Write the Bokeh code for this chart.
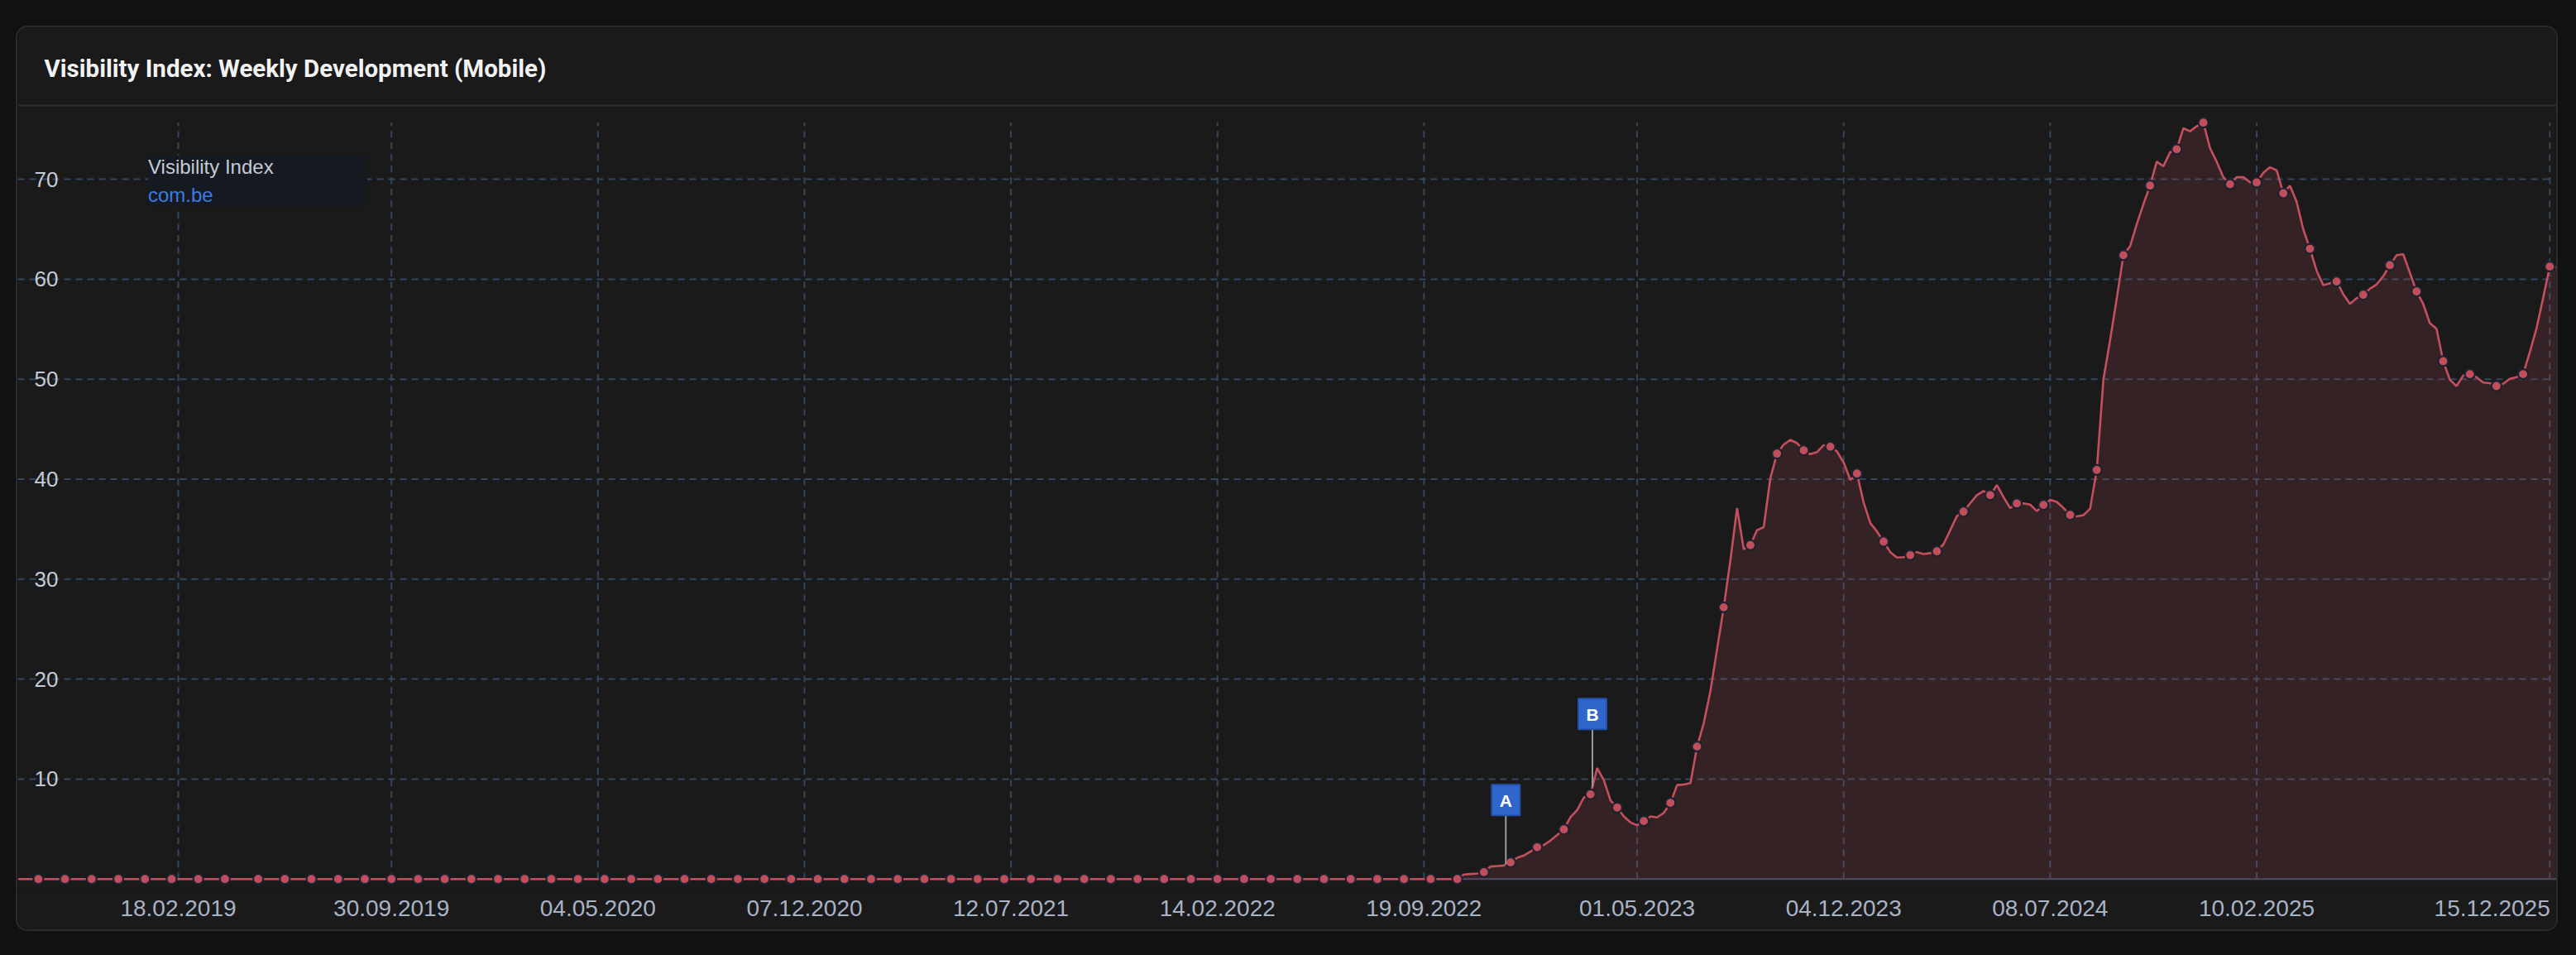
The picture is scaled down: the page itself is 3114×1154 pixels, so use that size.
import numpy as np
import pandas as pd
from bokeh.plotting import figure
from bokeh.models import (Range1d, FixedTicker, LinearAxis, Span, Legend, LegendItem,
                          GlobalInlineStyleSheet)
from bokeh.core.properties import value
from bokeh.embed import file_html
from bokeh.resources import INLINE

# ---------------- data ----------------
first_week = "2018-09-03"
last_week = "2025-12-22"
missing_weeks = ["2019-04-29"]          # one week without a data point

# weekly Visibility Index 03.09.2018 - 24.10.2022 (all zero)
vis_flat = [
    0, 0, 0, 0, 0, 0, 0, 0, 0, 0, 0, 0, 0, 0, 0, 0, 0, 0, 0, 0, 0, 0, 0, 0,
    0, 0, 0, 0, 0, 0, 0, 0, 0, 0, 0, 0, 0, 0, 0, 0, 0, 0, 0, 0, 0, 0, 0, 0,
    0, 0, 0, 0, 0, 0, 0, 0, 0, 0, 0, 0, 0, 0, 0, 0, 0, 0, 0, 0, 0, 0, 0, 0,
    0, 0, 0, 0, 0, 0, 0, 0, 0, 0, 0, 0, 0, 0, 0, 0, 0, 0, 0, 0, 0, 0, 0, 0,
    0, 0, 0, 0, 0, 0, 0, 0, 0, 0, 0, 0, 0, 0, 0, 0, 0, 0, 0, 0, 0, 0, 0, 0,
    0, 0, 0, 0, 0, 0, 0, 0, 0, 0, 0, 0, 0, 0, 0, 0, 0, 0, 0, 0, 0, 0, 0, 0,
    0, 0, 0, 0, 0, 0, 0, 0, 0, 0, 0, 0, 0, 0, 0, 0, 0, 0, 0, 0, 0, 0, 0, 0,
    0, 0, 0, 0, 0, 0, 0, 0, 0, 0, 0, 0, 0, 0, 0, 0, 0, 0, 0, 0, 0, 0, 0, 0,
    0, 0, 0, 0, 0, 0, 0, 0, 0, 0, 0, 0, 0, 0, 0, 0, 0, 0, 0, 0, 0, 0, 0, 0,
]
# weekly Visibility Index from 31.10.2022 to 22.12.2025
vis_growth = [
    0.45, 0.5, 0.55,
    0.69, 1.25, 1.3, 1.35,   1.66, 2.13, 2.35, 2.76,   3.18, 3.4, 3.86, 4.41,
    4.97, 6.19, 6.9, 8.15,   8.47, 11.1, 9.9, 7.87,    7.15, 6.27, 5.66, 5.38,
    5.8, 6.27, 6.16, 6.62,   7.62, 9.4, 9.45, 9.6,     13.25, 15.6, 18.8, 23.0,
    27.18, 31.9, 37.1, 33.0, 33.4, 34.9, 35.2, 40.1,   42.55, 43.46, 43.93, 43.6,
    42.88, 42.5, 42.7, 43.4, 43.24, 42.77, 41.67, 39.93, 40.56, 37.67, 35.6, 34.77,
    33.75, 32.7, 32.15, 32.2, 32.4, 32.7, 32.5, 32.6,  32.78, 33.5, 34.9, 36.3,
    36.75, 37.6, 38.4, 38.8, 38.4, 39.4, 38.2, 37.1,   37.57, 37.58, 37.45, 36.8,
    37.42, 37.92, 37.72, 37.12, 36.42, 36.28, 36.4, 37.05, 40.92, 50.0, 53.9, 58.1,
    62.4, 63.3, 65.5, 67.5,  69.37, 71.75, 71.3, 72.7, 73.0, 75.1, 74.8, 75.3,
    75.66, 73.1, 71.75, 70.2, 69.5, 70.2, 70.2, 69.7,  69.68, 70.64, 71.2, 70.9,
    68.6, 69.35, 67.75, 64.98, 63.05, 60.84, 59.4, 59.6, 59.77, 58.5, 57.53, 58.1,
    58.44, 59.05, 59.47, 60.3, 61.4, 62.4, 62.5, 60.65, 58.77, 57.53, 55.6, 55.05,
    51.8, 49.95, 49.3, 50.36, 50.5, 50.2, 49.67, 49.6, 49.31, 49.54, 50.03, 50.2,
    50.5, 52.7, 55.05, 58.1, 61.26, 61.2,
]

tick_dates = ["2019-02-18", "2019-09-30", "2020-05-04", "2020-12-07", "2021-07-12",
              "2022-02-14", "2022-09-19", "2023-05-01", "2023-12-04", "2024-07-08",
              "2025-02-10", "2025-12-15"]
tick_labels = ["18.02.2019", "30.09.2019", "04.05.2020", "07.12.2020", "12.07.2021",
               "14.02.2022", "19.09.2022", "01.05.2023", "04.12.2023", "08.07.2024",
               "10.02.2025", "15.12.2025"]
y_ticks = [10, 20, 30, 40, 50, 60, 70]

flag_dates = ["2022-12-14", "2023-03-15"]
flag_labels = ["A", "B"]
flag_box_values = [7.9, 16.5]

series_name = "com.be"
legend_title = "Visibility Index"
chart_title = "Visibility Index: Weekly Development (Mobile)"

# ---------------- build ----------------
weeks = pd.date_range(first_week, last_week, freq="7D")
weeks = weeks[~weeks.isin(pd.to_datetime(missing_weeks))]
vis = np.array(vis_flat + vis_growth, dtype=float)
assert len(weeks) == len(vis)

EPOCH = pd.Timestamp("1970-01-01")
def ms(t):
    return (pd.Timestamp(t) - EPOCH).total_seconds() * 1000.0

# layout constants (pixels)
PX_PER_DAY = 1.1504
PX_PER_UNIT = 12.08
anchor = pd.Timestamp("2019-02-18")
x_start = anchor - pd.Timedelta(days=194 / PX_PER_DAY)
x_end = anchor + pd.Timedelta(days=2879 / PX_PER_DAY)
y_top = float(vis.max())
y_start = -10.3 / PX_PER_UNIT
y_end = y_top + 27.7 / PX_PER_UNIT        # frame reaches up to the header separator
y_sep = y_top + 20.7 / PX_PER_UNIT

BG = "#1a1a1a"
GRID = "#34465f"
RED = "#c4505f"

p = figure(width=3073, height=1094, x_axis_type="datetime", y_axis_location=None,
           x_range=Range1d(x_start, x_end), y_range=Range1d(y_start, y_end),
           output_backend="svg", toolbar_location=None,
           background_fill_color=BG, border_fill_color=BG,
           min_border_left=0, min_border_right=0, min_border_top=87, min_border_bottom=55)
p.outline_line_color = None
p.grid.visible = False

p.stylesheets = [GlobalInlineStyleSheet(css="html, body { background: #111111; } "
                                            "body { margin: 0; padding: 31px 0 0 19px; }")]
p.styles = {"border": "2px solid #2b2b2b", "border-radius": "14px", "overflow": "hidden"}

# x axis (the default one, below)
xa = p.below[0]
tick_ms = [ms(t) for t in tick_dates]
xa.ticker = FixedTicker(ticks=tick_ms)
overrides = {t: lab for t, lab in zip(tick_ms, tick_labels)}
overrides[tick_ms[-1]] = tick_labels[-1] + "\u00a0"   # keep the last label inside the card
xa.major_label_overrides = overrides
xa.axis_line_color = None
xa.major_tick_line_color = None
xa.minor_tick_line_color = None
xa.major_tick_out = 0
xa.minor_tick_out = 0
xa.major_label_standoff = 9
xa.major_label_text_font = "Liberation Sans"
xa.major_label_text_font_size = "28px"
xa.major_label_text_color = "#a9b3c4"

# title
p.title.text = chart_title
p.title.text_font = "Roboto"
p.title.text_font_size = "29.5px"
p.title.text_font_style = "bold"
p.title.text_color = "#f2f2f2"
p.title.align = "left"
p.title.offset = 32
p.title.standoff = 42

# separator under the header
p.add_layout(Span(location=y_sep, dimension="width", line_color="#2e2e2e", line_width=2))

# grid lines (drawn beneath the area)
p.segment(x0=tick_ms, y0=[0] * len(tick_ms), x1=tick_ms, y1=[y_top] * len(tick_ms),
          line_color=GRID, line_width=2, line_dash="8 6")
p.segment(x0=[ms(x_start)] * len(y_ticks), y0=y_ticks, x1=[tick_ms[-1]] * len(y_ticks), y1=y_ticks,
          line_color=GRID, line_width=2, line_dash="8 6")

p.add_layout(Span(location=0, dimension="width", line_color="#464d68", line_width=2,
                  level="underlay"))

# series
p.varea(x=weeks, y1=np.zeros(len(vis)), y2=vis, fill_color="#c4505f", fill_alpha=0.16)
p.line(x=weeks, y=vis, line_color=RED, line_width=2.6)
p.scatter(x=weeks[3::4], y=vis[3::4], size=12, fill_color="#c24e5c",
          line_color="#1c2230", line_width=2.2)

# flags
flag_ms = [ms(d) for d in flag_dates]
weeks_ms = np.array([ms(w) for w in weeks])
flag_base = np.interp(flag_ms, weeks_ms, vis)
box_half = 18.5 / PX_PER_UNIT
p.segment(x0=flag_ms, y0=flag_base, x1=flag_ms, y1=[v - box_half for v in flag_box_values],
          line_color="#9a9a9a", line_width=2)
p.rect(x=flag_ms, y=flag_box_values, width=34, height=37, width_units="screen",
       height_units="screen", fill_color="#2e66cc", line_color="#2453ad", line_width=2)
p.text(x=flag_ms, y=flag_box_values, text=flag_labels, text_align="center",
       text_baseline="middle", text_color="#ffffff", text_font=value("Liberation Sans"),
       text_font_style="bold", text_font_size="21px", y_offset=1)

# y axis labels inside the plot
ya = LinearAxis(fixed_location=ms(x_start), ticker=FixedTicker(ticks=y_ticks),
                axis_line_color=None, major_tick_line_color=None, minor_tick_line_color=None,
                major_tick_out=0, minor_tick_out=0, major_label_standoff=20,
                major_label_text_font="Liberation Sans", major_label_text_font_size="26px",
                major_label_text_color="#c3cbd7")
p.add_layout(ya, "right")

# legend
dummy = p.line(x=[], y=[], line_alpha=0)
legend = Legend(items=[LegendItem(label=series_name, renderers=[dummy])],
                title=legend_title, location=(158, 822), orientation="vertical",
                title_text_font="Liberation Sans", title_text_font_size="24px",
                title_text_font_style="normal", title_text_color="#c4cad6",
                label_text_font="Liberation Sans", label_text_font_size="24px",
                label_text_color="#3b7be2", background_fill_color="#151a21",
                background_fill_alpha=1.0, border_line_color=None, padding=18, margin=0,
                glyph_width=0, glyph_height=22, label_standoff=0, label_width=265,
                label_height=22, title_standoff=6, spacing=0)
p.add_layout(legend, "center")

open("out.html", "w").write(file_html(p, INLINE))
